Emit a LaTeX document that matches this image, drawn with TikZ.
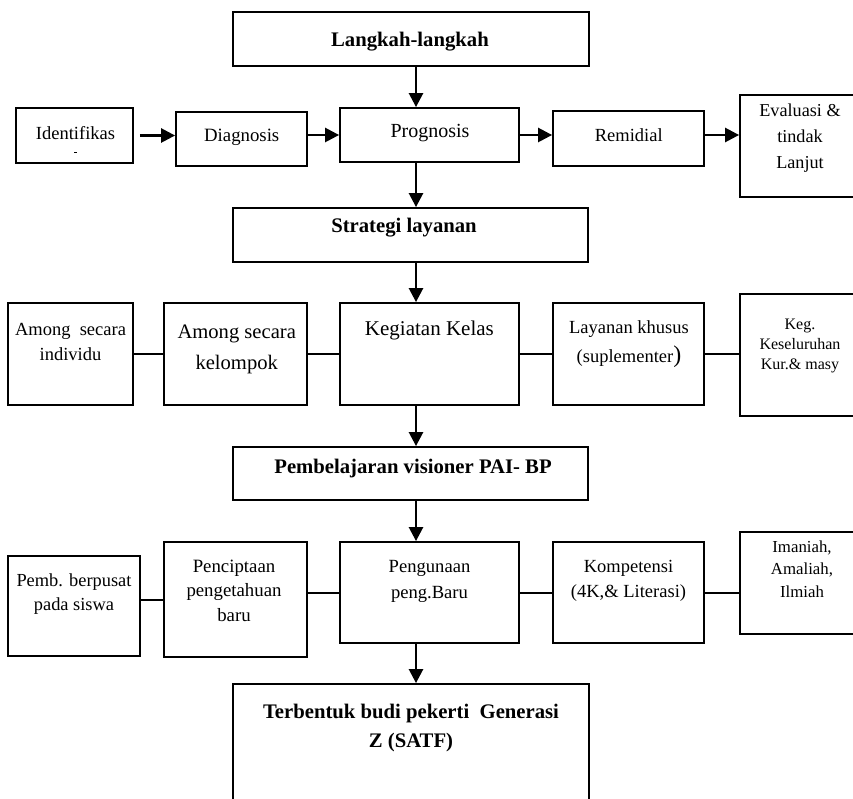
\documentclass[tikz,border=0pt]{standalone}
\usepackage{fontspec}
\setmainfont{Liberation Serif}
\usetikzlibrary{arrows.meta}
\newcommand{\fs}[2]{\fontsize{#1}{#2}\selectfont}
\begin{document}
\begin{tikzpicture}[x=1pt,y=-1pt,
  box/.style={draw, line width=1.8pt, rectangle, inner sep=0pt},
  lbl/.style={anchor=base, align=center, inner sep=0pt},
  head/.style={lbl, font=\bfseries\fs{20.7}{29}},
  arr/.style={line width=2.5pt, -{Triangle[width=14pt,length=14pt]}},
  link/.style={line width=2pt},
]
\useasboundingbox (0,0) rectangle (853,799);
\clip (0,0) rectangle (853,799);

% --- boxes ---
\node[box, minimum width=356pt, minimum height=54pt] (langkah) at (411,39) {};
\node[box, minimum width=117pt, minimum height=55pt] (ident) at (74.5,135.5) {};
\node[box, minimum width=131pt, minimum height=54pt] (diag) at (241.5,139) {};
\node[box, minimum width=179pt, minimum height=54pt] (prog) at (429.5,135) {};
\node[box, minimum width=151pt, minimum height=55pt] (remid) at (628.5,138.5) {};
\node[box, minimum width=130pt, minimum height=102pt] (eval) at (805,146) {};
\node[box, minimum width=355pt, minimum height=54pt] (strat) at (410.5,235) {};
\node[box, minimum width=125pt, minimum height=102pt] (ind) at (70.5,354) {};
\node[box, minimum width=143pt, minimum height=102pt] (kel) at (235.5,354) {};
\node[box, minimum width=179pt, minimum height=102pt] (keg) at (429.5,354) {};
\node[box, minimum width=151pt, minimum height=102pt] (lay) at (628.5,354) {};
\node[box, minimum width=130pt, minimum height=122pt] (kegk) at (805,355) {};
\node[box, minimum width=355pt, minimum height=53pt] (pemb) at (410.5,473.5) {};
\node[box, minimum width=132pt, minimum height=100pt] (pusat) at (74,606) {};
\node[box, minimum width=143pt, minimum height=115pt] (penc) at (235.5,599.5) {};
\node[box, minimum width=179pt, minimum height=101pt] (peng) at (429.5,592.5) {};
\node[box, minimum width=151pt, minimum height=101pt] (komp) at (628.5,592.5) {};
\node[box, minimum width=130pt, minimum height=102pt] (iman) at (805,583) {};
\node[box, minimum width=356pt, minimum height=146pt] (terb) at (411,757) {};

% --- texts (each placed at the baseline of its last line) ---
\node[head] (langkah-t) at (410,46.5) {Langkah-langkah};
\node[lbl, font=\fs{18.5}{24}] (ident-t) at (75.5,140) {Identifikas};
\draw[line width=0.7pt] (74,152) -- (76.5,152);
\node[lbl, font=\fs{18.8}{24}] (diag-t) at (241.7,141.5) {Diagnosis};
\node[lbl, font=\fs{20}{24}] (prog-t) at (430,138) {Prognosis};
\node[lbl, font=\fs{18.5}{24}] (remid-t) at (628.8,142) {Remidial};
\node[lbl, font=\fs{18.2}{26}] (eval-t) at (800,169) {Evaluasi \&\\tindak\\Lanjut};
\node[head] (strat-t) at (404,233) {Strategi layanan};
\node[lbl, font=\fs{18.5}{25}] (ind-t) at (70.5,360) {Among\ \ secara\\individu};
\node[lbl, font=\fs{20.6}{31}] (kel-t) at (236.7,369) {Among secara\\kelompok};
\node[lbl, font=\fs{21}{26}] (keg-t) at (429.4,335) {Kegiatan Kelas};
\node[lbl, font=\fs{18.5}{29}] (lay-t) at (629,362) {Layanan khusus\\(suplementer{\fs{24}{29})}};
\node[lbl, font=\fs{16}{20}] (kegk-t) at (800,369) {Keg.\\Keseluruhan\\Kur.\& masy};
\node[head] (pemb-t) at (413,473) {Pembelajaran visioner PAI- BP};
\node[lbl, font=\fs{18.4}{24}] (pusat-t) at (74,610) {Pemb. berpusat\\pada siswa};
\node[lbl, font=\fs{18.8}{24.5}] (penc-t) at (234,621) {Penciptaan\\pengetahuan\\baru};
\node[lbl, font=\fs{18.6}{26}] (peng-t) at (429.5,598) {Pengunaan\\peng.Baru};
\node[lbl, font=\fs{18.5}{25}] (komp-t) at (628.5,597) {Kompetensi\\(4K,\& Literasi)};
\node[lbl, font=\fs{16.8}{22.5}] (iman-t) at (802,597) {Imaniah,\\Amaliah,\\Ilmiah};
\node[head] (terb-t) at (411,747) {Terbentuk budi pekerti\ \ Generasi\\Z (SATF)};

% --- vertical spine of arrows ---
\coordinate (spine) at (416,0);
\draw[arr] (langkah.south -| spine) -- (prog.north -| spine);
\draw[arr] (prog.south -| spine) -- (strat.north -| spine);
\draw[arr] (strat.south -| spine) -- (keg.north -| spine);
\draw[arr] (keg.south -| spine) -- (pemb.north -| spine);
\draw[arr] (pemb.south -| spine) -- (peng.north -| spine);
\draw[arr] (peng.south -| spine) -- (terb.north -| spine);

% --- top row arrows ---
\draw[arr, shorten <=6pt] (ident.east) -- (ident.east -| diag.west);
\draw[arr] (diag.east |- prog.east) -- (prog.west);
\draw[arr] (prog.east) -- (prog.east -| remid.west);
\draw[arr] (remid.east |- prog.east) -- (prog.east -| eval.west);

% --- middle row links ---
\draw[link] (ind.east) -- (kel.west);
\draw[link] (kel.east) -- (keg.west);
\draw[link] (keg.east) -- (lay.west);
\draw[link] (lay.east) -- (lay.east -| kegk.west);

% --- lower row links ---
\draw[link] (pusat.east |- penc.east) -- (penc.west);
\draw[link] (penc.east |- peng.east) -- (peng.west);
\draw[link] (peng.east) -- (komp.west);
\draw[link] (komp.east) -- (komp.east -| iman.west);
\end{tikzpicture}
\end{document}
